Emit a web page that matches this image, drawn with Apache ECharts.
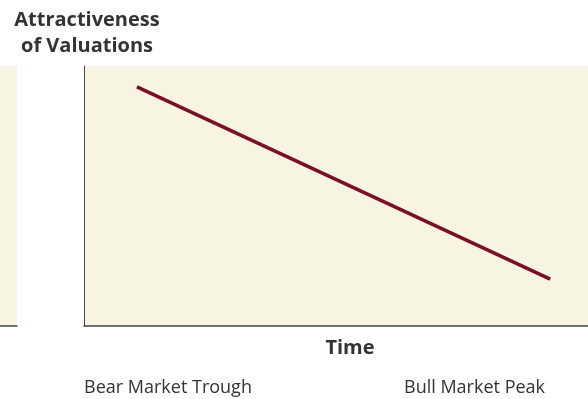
<!DOCTYPE html>
<html><head><meta charset="utf-8">
<script src="https://cdn.jsdelivr.net/npm/echarts@6/dist/echarts.min.js"></script>
<style>html,body{margin:0;padding:0;background:#fff}#c{width:588px;height:399px}</style>
</head><body><div id="c"></div>
<script>
const timePoints = [10.5, 92.5];
const attractiveness = [92, 18];
const yAxisTitle = 'Attractiveness\nof Valuations';
const xAxisTitle = 'Time';
const phaseLabels = ['Bear Market Trough', 'Bull Market Peak'];

const chart = echarts.init(document.getElementById('c'));
const beige = '#f8f4e2';
const font = '"Open Sans", "Noto Sans", sans-serif';
chart.setOption({
  animation: false,
  grid: [
    {left: 0, width: 17, top: 66, bottom: 73, show: true, backgroundColor: beige, borderWidth: 0},
    {left: 84, right: 0, top: 66, bottom: 73, show: true, backgroundColor: beige, borderWidth: 0}
  ],
  xAxis: [
    {gridIndex: 0, type: 'value', min: 0, max: 100, axisLine: {show: true, lineStyle: {color: '#444', width: 1.5}}, axisTick: {show: false}, axisLabel: {show: false}, splitLine: {show: false}},
    {gridIndex: 1, type: 'value', min: 0, max: 100,
     axisLine: {show: true, lineStyle: {color: '#444', width: 1.5}}, axisTick: {show: false}, axisLabel: {show: false}, splitLine: {show: false}}
  ],
  yAxis: [
    {gridIndex: 0, type: 'value', min: 0, max: 100, axisLine: {show: false}, axisTick: {show: false}, axisLabel: {show: false}, splitLine: {show: false}},
    {gridIndex: 1, type: 'value', min: 0, max: 100,
     axisLine: {show: true, lineStyle: {color: '#444', width: 1}}, axisTick: {show: false}, axisLabel: {show: false}, splitLine: {show: false}}
  ],
  series: [{
    type: 'line', xAxisIndex: 1, yAxisIndex: 1,
    data: timePoints.map((t, i) => [t, attractiveness[i]]),
    symbol: 'none', lineStyle: {color: '#7a0f26', width: 3.5}
  }],
  graphic: [
    {type: 'text', x: 87, y: 33, style: {text: yAxisTitle, font: 'bold 20px ' + font, fill: '#333', align: 'center', verticalAlign: 'middle', lineHeight: 26}},
    {type: 'text', x: 350, y: 348, style: {text: xAxisTitle, font: 'bold 20px ' + font, fill: '#333', align: 'center', verticalAlign: 'middle'}},
    {type: 'text', x: 84, y: 388, style: {text: phaseLabels[0], font: '18px ' + font, fill: '#333', align: 'left', verticalAlign: 'middle'}},
    {type: 'text', x: 404, y: 388, style: {text: phaseLabels[1], font: '18px ' + font, fill: '#333', align: 'left', verticalAlign: 'middle'}}
  ]
});
</script></body></html>
